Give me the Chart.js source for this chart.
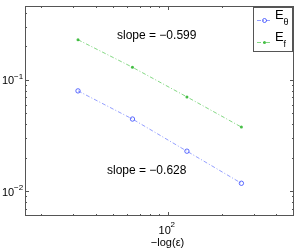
<!DOCTYPE html>
<html>
<head>
<meta charset="utf-8">
<script src="https://cdn.jsdelivr.net/npm/chart.js@4"></script>
<style>
  body { margin: 0; background: #fff; }
  #wrap { width: 299px; height: 249px; position: relative; }
</style>
</head>
<body>
<div id="wrap"><canvas id="errChart"></canvas></div>
<script>
// data
var epsInv = [32, 64, 128, 256];
var eTheta = [0.0796, 0.0445, 0.0229, 0.0118];
var eF = [0.229, 0.1297, 0.0703, 0.0377];

var xMajor = [100];
var xMinor = [20, 30, 40, 50, 60, 70, 80, 90, 200, 300, 400];
var yMajor = [0.01, 0.1];
var yMinor = [0.007, 0.008, 0.009, 0.02, 0.03, 0.04, 0.05, 0.06, 0.07, 0.08, 0.09, 0.2, 0.3, 0.4];
var xTickLabels = [{ v: 100, base: "10", exp: "2" }];
var yTickLabels = [{ v: 0.1, base: "10", exp: "\u22121" }, { v: 0.01, base: "10", exp: "\u22122" }];
var slopeLabels = ["slope = \u22120.599", "slope = \u22120.628"];

var FONT = "'Liberation Sans', Arial, sans-serif";
var BLUE = "rgba(40,60,255,0.75)";
var BLUE_LINE = "rgba(60,80,255,0.55)";
var GREEN = "rgba(40,180,40,0.85)";
var GREEN_LINE = "rgba(50,190,50,0.6)";

function pts(ys) {
  return epsInv.map(function (x, i) { return { x: x, y: ys[i] }; });
}

var axesPlugin = {
  id: "matlabAxes",
  afterDatasetsDraw: function (chart) {
    var ctx = chart.ctx;
    var a = chart.chartArea;
    var xs = chart.scales.x, ys = chart.scales.y;
    ctx.save();
    ctx.strokeStyle = "#555";
    ctx.lineWidth = 1;

    function tickX(v, len) {
      var px = Math.round(xs.getPixelForValue(v)) + 0.5;
      ctx.beginPath();
      ctx.moveTo(px, a.bottom); ctx.lineTo(px, a.bottom - len);
      ctx.moveTo(px, a.top); ctx.lineTo(px, a.top + len);
      ctx.stroke();
    }
    function tickY(v, len) {
      var py = Math.round(ys.getPixelForValue(v)) + 0.5;
      ctx.beginPath();
      ctx.moveTo(a.left, py); ctx.lineTo(a.left + len, py);
      ctx.moveTo(a.right, py); ctx.lineTo(a.right - len, py);
      ctx.stroke();
    }
    xMinor.forEach(function (v) { tickX(v, 2); });
    xMajor.forEach(function (v) { tickX(v, 4); });
    yMinor.forEach(function (v) { tickY(v, 2); });
    yMajor.forEach(function (v) { tickY(v, 4); });

    ctx.strokeRect(Math.round(a.left) + 0.5, Math.round(a.top) + 0.5,
      Math.round(a.right - a.left) - 1, Math.round(a.bottom - a.top) - 1);

    // tick labels
    ctx.fillStyle = "#000";
    ctx.textBaseline = "alphabetic";
    yTickLabels.forEach(function (t) {
      var py = ys.getPixelForValue(t.v);
      ctx.font = "11px " + FONT;
      ctx.textAlign = "left";
      ctx.fillText(t.base, 2, py + 4.5);
      ctx.font = "8px " + FONT;
      ctx.fillText(t.exp, 14, py - 1);
    });
    xTickLabels.forEach(function (t) {
      var px = xs.getPixelForValue(t.v);
      ctx.font = "11px " + FONT;
      ctx.textAlign = "left";
      ctx.fillText(t.base, px - 9, a.bottom + 17.5);
      ctx.font = "8px " + FONT;
      ctx.fillText(t.exp, px + 3, a.bottom + 11);
    });
    ctx.font = "11px " + FONT;
    ctx.textAlign = "center";
    ctx.fillText("\u2212log(\u03b5)", xs.getPixelForValue(100), a.bottom + 30);

    // slope notes
    ctx.font = "12px " + FONT;
    ctx.textAlign = "left";
    ctx.fillText(slopeLabels[0], 117, 39);
    ctx.fillText(slopeLabels[1], 107, 174);

    // legend
    var lx = 253, ly = 7, lw = 40, lh = 45;
    ctx.fillStyle = "#fff";
    ctx.fillRect(lx, ly, lw, lh);
    ctx.strokeStyle = "#555";
    ctx.strokeRect(lx + 0.5, ly + 0.5, lw - 1, lh - 1);
    var rows = [
      { y: 20.5, color: BLUE, line: BLUE_LINE, sub: "\u03b8", marker: "circle" },
      { y: 42.5, color: GREEN, line: GREEN_LINE, sub: "f", marker: "dot" }
    ];
    rows.forEach(function (r) {
      ctx.strokeStyle = r.line;
      ctx.setLineDash([4, 2, 1, 2]);
      ctx.beginPath();
      ctx.moveTo(257, r.y); ctx.lineTo(272, r.y);
      ctx.stroke();
      ctx.setLineDash([]);
      ctx.strokeStyle = r.color;
      ctx.beginPath();
      if (r.marker === "circle") {
        ctx.arc(264.5, r.y, 2, 0, Math.PI * 2);
        ctx.stroke();
      } else {
        ctx.fillStyle = r.color;
        ctx.arc(264.5, r.y, 1.5, 0, Math.PI * 2);
        ctx.fill();
      }
      ctx.fillStyle = "#000";
      ctx.font = "13px " + FONT;
      ctx.textAlign = "left";
      ctx.fillText("E", 275, r.y - 1.5);
      ctx.font = "9px " + FONT;
      ctx.fillText(r.sub, 283.5, r.y + 4);
    });
    ctx.restore();
  }
};

new Chart(document.getElementById("errChart").getContext("2d"), {
  type: "scatter",
  data: {
    datasets: [
      {
        label: "E\u03b8",
        data: pts(eTheta),
        showLine: true,
        borderColor: BLUE_LINE,
        borderWidth: 1,
        borderDash: [4, 2, 1, 2],
        pointStyle: "circle",
        pointRadius: 2.2,
        pointBorderWidth: 1,
        pointBorderColor: BLUE,
        pointBackgroundColor: "rgba(0,0,0,0)"
      },
      {
        label: "Ef",
        data: pts(eF),
        showLine: true,
        borderColor: GREEN_LINE,
        borderWidth: 1,
        borderDash: [4, 2, 1, 2],
        pointStyle: "circle",
        pointRadius: 1.5,
        pointBorderWidth: 0,
        pointBackgroundColor: GREEN
      }
    ]
  },
  options: {
    responsive: true,
    maintainAspectRatio: false,
    animation: false,
    layout: { padding: { left: 25, top: 6, right: 5, bottom: 33 } },
    plugins: { legend: { display: false }, tooltip: { enabled: false } },
    scales: {
      x: { type: "logarithmic", min: 16.3, max: 500, display: false },
      y: { type: "logarithmic", min: 0.006, max: 0.46, display: false }
    }
  },
  plugins: [axesPlugin]
});
</script>
</body>
</html>
